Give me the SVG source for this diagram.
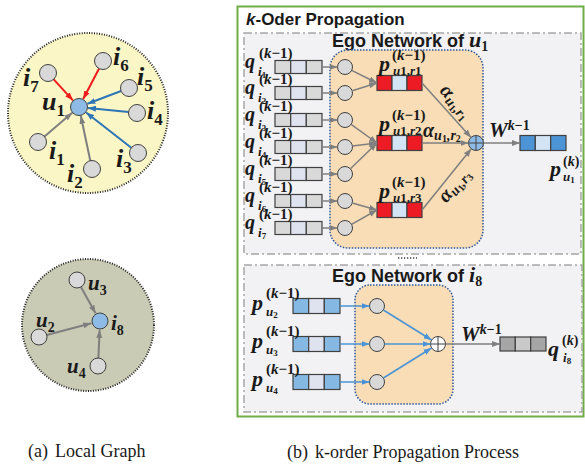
<svg xmlns="http://www.w3.org/2000/svg" width="585" height="467" viewBox="0 0 585 467">
<defs>
<style>
.m{font-family:"Liberation Serif","DejaVu Serif",serif;font-weight:bold;font-style:italic;fill:#1a1a1a}
.sp{font-family:"Liberation Serif","DejaVu Serif",serif;font-weight:bold;fill:#1a1a1a}
.up{font-style:normal}
.it{font-style:italic}
.hd{font-family:"Liberation Sans","Arial",sans-serif;font-weight:bold;fill:#1a1a1a}
.cap{font-family:"Liberation Serif","Times New Roman",serif;font-size:18px;fill:#1a1a1a}
.gn{fill:#d9d9d9;stroke:#404040;stroke-width:1}
.bn{fill:#8ebbe5;stroke:#404040;stroke-width:1}
.cell{stroke:#404040;stroke-width:1.2}
.eg{stroke:#7f7f7f;stroke-width:2;fill:none}
.er{stroke:#ee1c1c;stroke-width:2;fill:none}
.eb{stroke:#2e75b6;stroke-width:2;fill:none}
.lg{stroke:#7f7f7f;stroke-width:1.5;fill:none}
.lb{stroke:#4a93d6;stroke-width:1.5;fill:none}
.dash{fill:#f2f2f4;stroke:#a6a6a6;stroke-width:1.5;stroke-dasharray:8,3,2,3}
.ego{fill:#f8ddb6;stroke:#2f5597;stroke-width:1.5;stroke-dasharray:1.5,1.5}
.g{fill:#d9d9d9}.l{fill:#dfe3f0}.r{fill:#ed1c24}.lbl{fill:#d3e5f5}.b{fill:#4d94d6}.lb2{fill:#86b8e4}.d{fill:#a6a6a6}.dm{fill:#c9c9c9}
</style>
<marker id="ag" viewBox="0 0 8 6" refX="8" refY="3" markerWidth="8" markerHeight="6" markerUnits="userSpaceOnUse" orient="auto"><path d="M0,0 L8,3 L0,6 z" fill="#7f7f7f"/></marker>
<marker id="ar" viewBox="0 0 8 6" refX="8" refY="3" markerWidth="8" markerHeight="6" markerUnits="userSpaceOnUse" orient="auto"><path d="M0,0 L8,3 L0,6 z" fill="#ee1c1c"/></marker>
<marker id="ab" viewBox="0 0 8 6" refX="8" refY="3" markerWidth="8" markerHeight="6" markerUnits="userSpaceOnUse" orient="auto"><path d="M0,0 L8,3 L0,6 z" fill="#2e75b6"/></marker>
<marker id="ab2" viewBox="0 0 8 6" refX="8" refY="3" markerWidth="8" markerHeight="6" markerUnits="userSpaceOnUse" orient="auto"><path d="M0,0 L8,3 L0,6 z" fill="#4a93d6"/></marker>
</defs>
<rect width="585" height="467" fill="#ffffff"/>

<!-- ===== Left panel: local graph of u1 ===== -->
<g id="graph-u1">
<circle cx="88" cy="113" r="80" fill="#fbf6c6" stroke="#222" stroke-width="2" stroke-dasharray="1,1.5"/>
</g>
<g id="edges-u1">
<line class="er" x1="53.7" y1="79.3" x2="72.9" y2="100.3" marker-end="url(#ar)"/>
<line class="er" x1="99.1" y1="68.5" x2="83.2" y2="99.0" marker-end="url(#ar)"/>
<line class="eb" x1="121.1" y1="91.0" x2="87.4" y2="103.8" marker-end="url(#ab)"/>
<line class="eb" x1="128.5" y1="112.1" x2="88.0" y2="107.9" marker-end="url(#ab)"/>
<line class="eb" x1="131.3" y1="147.8" x2="86.1" y2="112.5" marker-end="url(#ab)"/>
<line class="eg" x1="90.3" y1="160.7" x2="80.8" y2="115.8" marker-end="url(#ag)"/>
<line class="eg" x1="44.5" y1="136.5" x2="72.2" y2="112.8" marker-end="url(#ag)"/>
</g>
<g id="node-u1"><circle class="bn" cx="79" cy="107" r="8.5"/><text class="m" x="42" y="110" font-size="26">u<tspan class="up" font-size="17" dy="6">1</tspan></text></g>
<g id="node-i7"><circle class="gn" cx="48" cy="73" r="8.5"/><text class="m" x="23" y="86" font-size="26">i<tspan class="up" font-size="17" dy="6">7</tspan></text></g>
<g id="node-i6"><circle class="gn" cx="103" cy="61" r="8.5"/><text class="m" x="113" y="65" font-size="26">i<tspan class="up" font-size="17" dy="6">6</tspan></text></g>
<g id="node-i5"><circle class="gn" cx="129" cy="88" r="8.5"/><text class="m" x="137" y="85" font-size="26">i<tspan class="up" font-size="17" dy="6">5</tspan></text></g>
<g id="node-i4"><circle class="gn" cx="137" cy="113" r="8.5"/><text class="m" x="147" y="119" font-size="26">i<tspan class="up" font-size="17" dy="6">4</tspan></text></g>
<g id="node-i3"><circle class="gn" cx="138" cy="153" r="8.5"/><text class="m" x="116" y="167" font-size="26">i<tspan class="up" font-size="17" dy="6">3</tspan></text></g>
<g id="node-i2"><circle class="gn" cx="92" cy="169" r="8.5"/><text class="m" x="67" y="182" font-size="26">i<tspan class="up" font-size="17" dy="6">2</tspan></text></g>
<g id="node-i1"><circle class="gn" cx="38" cy="142" r="8.5"/><text class="m" x="49" y="159" font-size="26">i<tspan class="up" font-size="17" dy="6">1</tspan></text></g>

<!-- ===== Left panel: local graph of i8 ===== -->
<g id="graph-i8">
<circle cx="88" cy="325" r="66" fill="#c9cbb4" stroke="#222" stroke-width="2" stroke-dasharray="1,1.5"/>
</g>
<g id="edges-i8">
<line class="eg" x1="80.9" y1="287.0" x2="95.6" y2="313.2" marker-end="url(#ag)"/>
<line class="eg" x1="46.7" y1="335.0" x2="91.3" y2="323.3" marker-end="url(#ag)"/>
<line class="eg" x1="98.4" y1="358" x2="99.6" y2="330" marker-end="url(#ag)"/>
</g>
<g id="node-i8"><circle class="bn" cx="100" cy="321" r="8"/><text class="m" x="111" y="330" font-size="21">i<tspan class="up" font-size="14" dy="5">8</tspan></text></g>
<g id="node-u3"><circle class="gn" cx="77" cy="280" r="8"/><text class="m" x="88" y="290" font-size="21">u<tspan class="up" font-size="14" dy="5">3</tspan></text></g>
<g id="node-u2"><circle class="gn" cx="39" cy="337" r="8"/><text class="m" x="36" y="327" font-size="21">u<tspan class="up" font-size="14" dy="5">2</tspan></text></g>
<g id="node-u4"><circle class="gn" cx="98" cy="366" r="8"/><text class="m" x="67" y="373" font-size="21">u<tspan class="up" font-size="14" dy="5">4</tspan></text></g>

<text class="cap" x="28" y="457">(a)</text>
<text class="cap" x="55" y="457">Local Graph</text>

<!-- ===== Right panel ===== -->
<g id="frame">
<rect x="237.5" y="6.5" width="346" height="410" fill="#ffffff" stroke="#70ad47" stroke-width="2"/>
<text class="hd" x="246" y="25" font-size="17"><tspan font-style="italic">k</tspan>-Oder Propagation</text>
</g>

<g id="ego-u1-frame">
<rect class="dash" x="244" y="33" width="337" height="221"/>
<text class="hd" x="332" y="47" font-size="18">Ego Network of <tspan class="m" font-size="22">u</tspan><tspan class="sp" font-size="14" dy="4">1</tspan></text>
<rect class="ego" x="330" y="50" width="153" height="198" rx="18"/>
</g>

<g id="ego-i8-frame">
<rect class="dash" x="244" y="265" width="338" height="147"/>
<text class="hd" x="332" y="282" font-size="18">Ego Network of <tspan class="m" font-size="22">i</tspan><tspan class="sp" font-size="14" dy="4">8</tspan></text>
<rect class="ego" x="355" y="285" width="98" height="119" rx="15"/>
</g>
<line x1="398" y1="258" x2="417" y2="258" stroke="#404040" stroke-width="1.3" stroke-dasharray="1.3,1.7"/>

<!-- inputs q -->
<g id="q-i1"><rect class="cell g" x="275" y="60.5" width="15.7" height="13"/><rect class="cell l" x="290.7" y="60.5" width="15.6" height="13"/><rect class="cell g" x="306.3" y="60.5" width="15.7" height="13"/><circle class="gn" cx="345" cy="67" r="7.5"/>
<text class="m" x="245" y="68" font-size="20">q<tspan class="up" x="259" y="58" font-size="15">(<tspan class="it">k</tspan>−1)</tspan><tspan x="258" y="76" font-size="13">i</tspan><tspan class="up" font-size="9" dy="2">1</tspan></text></g>
<g id="q-i2"><rect class="cell g" x="275" y="86.5" width="15.7" height="13"/><rect class="cell l" x="290.7" y="86.5" width="15.6" height="13"/><rect class="cell g" x="306.3" y="86.5" width="15.7" height="13"/><circle class="gn" cx="345" cy="93" r="7.5"/>
<text class="m" x="245" y="94" font-size="20">q<tspan class="up" x="259" y="84" font-size="15">(<tspan class="it">k</tspan>−1)</tspan><tspan x="258" y="102" font-size="13">i</tspan><tspan class="up" font-size="9" dy="2">2</tspan></text></g>
<g id="q-i3"><rect class="cell g" x="275" y="113.5" width="15.7" height="13"/><rect class="cell l" x="290.7" y="113.5" width="15.6" height="13"/><rect class="cell g" x="306.3" y="113.5" width="15.7" height="13"/><circle class="gn" cx="345" cy="120" r="7.5"/>
<text class="m" x="245" y="121" font-size="20">q<tspan class="up" x="259" y="111" font-size="15">(<tspan class="it">k</tspan>−1)</tspan><tspan x="258" y="129" font-size="13">i</tspan><tspan class="up" font-size="9" dy="2">3</tspan></text></g>
<g id="q-i4"><rect class="cell g" x="275" y="140.5" width="15.7" height="13"/><rect class="cell l" x="290.7" y="140.5" width="15.6" height="13"/><rect class="cell g" x="306.3" y="140.5" width="15.7" height="13"/><circle class="gn" cx="345" cy="147" r="7.5"/>
<text class="m" x="245" y="148" font-size="20">q<tspan class="up" x="259" y="138" font-size="15">(<tspan class="it">k</tspan>−1)</tspan><tspan x="258" y="156" font-size="13">i</tspan><tspan class="up" font-size="9" dy="2">4</tspan></text></g>
<g id="q-i5"><rect class="cell g" x="275" y="167.5" width="15.7" height="13"/><rect class="cell l" x="290.7" y="167.5" width="15.6" height="13"/><rect class="cell g" x="306.3" y="167.5" width="15.7" height="13"/><circle class="gn" cx="345" cy="174" r="7.5"/>
<text class="m" x="245" y="175" font-size="20">q<tspan class="up" x="259" y="165" font-size="15">(<tspan class="it">k</tspan>−1)</tspan><tspan x="258" y="183" font-size="13">i</tspan><tspan class="up" font-size="9" dy="2">5</tspan></text></g>
<g id="q-i6"><rect class="cell g" x="275" y="194.5" width="15.7" height="13"/><rect class="cell l" x="290.7" y="194.5" width="15.6" height="13"/><rect class="cell g" x="306.3" y="194.5" width="15.7" height="13"/><circle class="gn" cx="345" cy="201" r="7.5"/>
<text class="m" x="245" y="202" font-size="20">q<tspan class="up" x="259" y="192" font-size="15">(<tspan class="it">k</tspan>−1)</tspan><tspan x="258" y="210" font-size="13">i</tspan><tspan class="up" font-size="9" dy="2">6</tspan></text></g>
<g id="q-i7"><rect class="cell g" x="275" y="221.5" width="15.7" height="13"/><rect class="cell l" x="290.7" y="221.5" width="15.6" height="13"/><rect class="cell g" x="306.3" y="221.5" width="15.7" height="13"/><circle class="gn" cx="345" cy="228" r="7.5"/>
<text class="m" x="245" y="229" font-size="20">q<tspan class="up" x="259" y="219" font-size="15">(<tspan class="it">k</tspan>−1)</tspan><tspan x="258" y="237" font-size="13">i</tspan><tspan class="up" font-size="9" dy="2">7</tspan></text></g>

<!-- relation boxes -->
<g id="p-r1"><rect class="cell r" x="377" y="75.5" width="15" height="15"/><rect class="cell lbl" x="392" y="75.5" width="15" height="15"/><rect class="cell r" x="407" y="75.5" width="15" height="15"/>
<text class="m" x="379" y="70.5" font-size="22">p<tspan class="up" x="392" y="60" font-size="15">(<tspan class="it">k</tspan>−1)</tspan><tspan class="up" x="393" y="74.5" font-size="13"><tspan class="it">u</tspan>1,<tspan class="it">r</tspan>1</tspan></text></g>
<g id="p-r2"><rect class="cell r" x="377" y="135.5" width="15" height="15"/><rect class="cell lbl" x="392" y="135.5" width="15" height="15"/><rect class="cell r" x="407" y="135.5" width="15" height="15"/>
<text class="m" x="379" y="130.5" font-size="22">p<tspan class="up" x="392" y="120" font-size="15">(<tspan class="it">k</tspan>−1)</tspan><tspan class="up" x="393" y="134.5" font-size="13"><tspan class="it">u</tspan>1,<tspan class="it">r</tspan>2</tspan></text></g>
<g id="p-r3"><rect class="cell r" x="377" y="202.5" width="15" height="15"/><rect class="cell lbl" x="392" y="202.5" width="15" height="15"/><rect class="cell r" x="407" y="202.5" width="15" height="15"/>
<text class="m" x="379" y="197.5" font-size="22">p<tspan class="up" x="392" y="187" font-size="15">(<tspan class="it">k</tspan>−1)</tspan><tspan class="up" x="393" y="201.5" font-size="13"><tspan class="it">u</tspan>1,<tspan class="it">r</tspan>3</tspan></text></g>

<!-- aggregation u1 -->
<g id="sum-u1"><circle cx="476" cy="143" r="7.5" fill="#8ebbe5" stroke="#404040" stroke-width="1"/><path d="M468.5,143 H483.5 M476,135.5 V150.5" stroke="#404040" stroke-width="1"/></g>
<g id="out-u1"><rect class="cell b" x="520" y="135.5" width="15.3" height="15"/><rect class="cell lbl" x="535.3" y="135.5" width="15.4" height="15"/><rect class="cell b" x="550.7" y="135.5" width="15.3" height="15"/>
<text class="m" x="550" y="176" font-size="22">p<tspan class="up" x="563" y="166" font-size="14">(<tspan class="it">k</tspan>)</tspan><tspan x="563" y="181" font-size="13">u</tspan><tspan class="up" font-size="9" dy="2">1</tspan></text></g>
<text class="m" x="489" y="137" font-size="21">W<tspan class="up" font-size="14" dy="-7"><tspan class="it">k</tspan>−1</tspan></text>

<!-- alpha labels -->
<text class="m" x="423" y="137" font-size="20">α<tspan font-size="14" dy="3">u</tspan><tspan class="up" font-size="10" dy="2">1</tspan><tspan font-size="14" dy="-2">,r</tspan><tspan class="up" font-size="10" dy="2">2</tspan></text>
<g transform="translate(451.7,105.3) rotate(48)"><text class="m" x="-19" y="0" font-size="20">α<tspan font-size="14" dy="3">u</tspan><tspan class="up" font-size="10" dy="2">1</tspan><tspan font-size="14" dy="-2">,r</tspan><tspan class="up" font-size="10" dy="2">1</tspan></text></g>
<g transform="translate(458.4,188.8) rotate(-51)"><text class="m" x="-19" y="0" font-size="20">α<tspan font-size="14" dy="3">u</tspan><tspan class="up" font-size="10" dy="2">1</tspan><tspan font-size="14" dy="-2">,r</tspan><tspan class="up" font-size="10" dy="2">3</tspan></text></g>

<!-- bottom inputs -->
<g id="p-u2"><rect class="cell lb2" x="293" y="298.5" width="15.7" height="15"/><rect class="cell l" x="308.7" y="298.5" width="15.6" height="15"/><rect class="cell lb2" x="324.3" y="298.5" width="15.7" height="15"/><circle class="gn" cx="377" cy="306" r="7.5"/>
<text class="m" x="252" y="310" font-size="22">p<tspan class="up" x="266" y="298" font-size="15">(<tspan class="it">k</tspan>−1)</tspan><tspan x="266" y="316" font-size="13">u</tspan><tspan class="up" font-size="9" dy="2">2</tspan></text></g>
<g id="p-u3"><rect class="cell lb2" x="293" y="336.5" width="15.7" height="15"/><rect class="cell l" x="308.7" y="336.5" width="15.6" height="15"/><rect class="cell lb2" x="324.3" y="336.5" width="15.7" height="15"/><circle class="gn" cx="377" cy="344" r="7.5"/>
<text class="m" x="252" y="348" font-size="22">p<tspan class="up" x="266" y="336" font-size="15">(<tspan class="it">k</tspan>−1)</tspan><tspan x="266" y="354" font-size="13">u</tspan><tspan class="up" font-size="9" dy="2">3</tspan></text></g>
<g id="p-u4"><rect class="cell lb2" x="293" y="374.5" width="15.7" height="15"/><rect class="cell l" x="308.7" y="374.5" width="15.6" height="15"/><rect class="cell lb2" x="324.3" y="374.5" width="15.7" height="15"/><circle class="gn" cx="377" cy="382" r="7.5"/>
<text class="m" x="252" y="386" font-size="22">p<tspan class="up" x="266" y="374" font-size="15">(<tspan class="it">k</tspan>−1)</tspan><tspan x="266" y="392" font-size="13">u</tspan><tspan class="up" font-size="9" dy="2">4</tspan></text></g>

<g id="sum-i8"><circle cx="438" cy="344" r="7.5" fill="#ffffff" stroke="#404040" stroke-width="1"/><path d="M430.5,344 H445.5 M438,336.5 V351.5" stroke="#404040" stroke-width="1"/></g>
<g id="out-i8"><rect class="cell d" x="500" y="337" width="15.3" height="14"/><rect class="cell dm" x="515.3" y="337" width="15.4" height="14"/><rect class="cell d" x="530.7" y="337" width="15.3" height="14"/>
<text class="m" x="548" y="356" font-size="22">q<tspan class="up" x="562" y="345" font-size="14">(<tspan class="it">k</tspan>)</tspan><tspan x="563" y="362" font-size="13">i</tspan><tspan class="up" font-size="9" dy="2">8</tspan></text></g>
<text class="m" x="461" y="341" font-size="21">W<tspan class="up" font-size="14" dy="-7"><tspan class="it">k</tspan>−1</tspan></text>

<!-- connectors -->
<g id="connectors">
<line class="lg" x1="322" y1="67" x2="337.5" y2="67" marker-end="url(#ag)"/>
<line class="lg" x1="322" y1="93" x2="337.5" y2="93" marker-end="url(#ag)"/>
<line class="lg" x1="322" y1="120" x2="337.5" y2="120" marker-end="url(#ag)"/>
<line class="lg" x1="322" y1="147" x2="337.5" y2="147" marker-end="url(#ag)"/>
<line class="lg" x1="322" y1="174" x2="337.5" y2="174" marker-end="url(#ag)"/>
<line class="lg" x1="322" y1="201" x2="337.5" y2="201" marker-end="url(#ag)"/>
<line class="lg" x1="322" y1="228" x2="337.5" y2="228" marker-end="url(#ag)"/>
<line class="lg" x1="351.7" y1="70.4" x2="377" y2="83" marker-end="url(#ag)"/>
<line class="lg" x1="352.2" y1="90.8" x2="377" y2="83" marker-end="url(#ag)"/>
<line class="lg" x1="351.1" y1="124.4" x2="377" y2="143" marker-end="url(#ag)"/>
<line class="lg" x1="352.4" y1="146.1" x2="377" y2="143" marker-end="url(#ag)"/>
<line class="lg" x1="350.4" y1="168.8" x2="377" y2="143" marker-end="url(#ag)"/>
<line class="lg" x1="352.2" y1="203.0" x2="377" y2="210" marker-end="url(#ag)"/>
<line class="lg" x1="351.5" y1="224.3" x2="377" y2="210" marker-end="url(#ag)"/>
<line class="lg" x1="422" y1="83" x2="471.0" y2="137.4" marker-end="url(#ag)"/>
<line class="lg" x1="422" y1="143" x2="468.5" y2="143" marker-end="url(#ag)"/>
<line class="lg" x1="422" y1="210" x2="471.3" y2="148.8" marker-end="url(#ag)"/>
<line class="lg" x1="483.5" y1="143" x2="520" y2="143" marker-end="url(#ag)"/>
<line class="lb" x1="340" y1="306" x2="369.5" y2="306" marker-end="url(#ab2)"/>
<line class="lb" x1="340" y1="344" x2="369.5" y2="344" marker-end="url(#ab2)"/>
<line class="lb" x1="340" y1="382" x2="369.5" y2="382" marker-end="url(#ab2)"/>
<line class="lb" x1="383.4" y1="310.0" x2="431.6" y2="340.0" marker-end="url(#ab2)"/>
<line class="lb" x1="384.5" y1="344" x2="430.5" y2="344" marker-end="url(#ab2)"/>
<line class="lb" x1="383.4" y1="378.0" x2="431.6" y2="348.0" marker-end="url(#ab2)"/>
<line class="lg" x1="445.5" y1="344" x2="500" y2="344" marker-end="url(#ag)"/>
</g>

<text class="cap" x="287" y="458">(b)</text>
<text class="cap" x="315" y="458">k-order Propagation Process</text>
</svg>
